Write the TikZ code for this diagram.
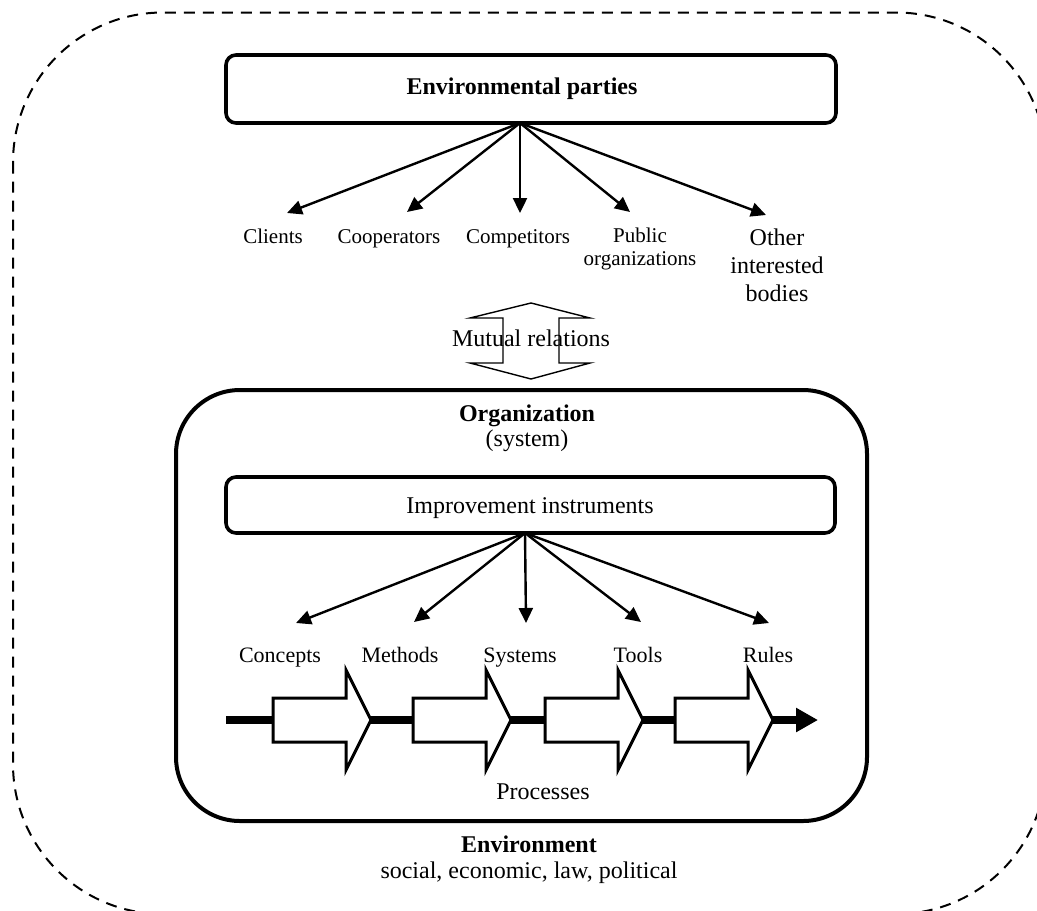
\documentclass[tikz,border=0pt]{standalone}
\usepackage{fontspec}
\setmainfont{Liberation Serif}
\usetikzlibrary{arrows.meta}
\begin{document}
\begin{tikzpicture}[x=0.5pt,y=-0.5pt,
  box/.style={draw, line width=1.8pt, rounded corners=5pt, inner sep=0pt},
  orgbox/.style={draw, line width=2pt, rounded corners=32pt, inner sep=0pt},
  lbl/.style={font=\fontsize{10.5}{11.5}\selectfont, align=center, inner sep=0pt},
  lblb/.style={font=\fontsize{11}{12}\selectfont, align=center, inner sep=0pt, anchor=base},
  txt/.style={font=\fontsize{12}{14}\selectfont, align=center, inner sep=0pt},
  btxt/.style={font=\fontsize{12}{14}\selectfont\bfseries, align=center, inner sep=0pt},
  conn/.style={line width=1.2pt, -{Triangle[length=7.5pt,width=7pt]}},
  procarrow/.style={draw, fill=white, line width=1.5pt, line join=miter},
  outer/.style={line width=1pt, dash pattern=on 5.5pt off 4pt, rounded corners=75pt}]
\useasboundingbox (0,0) rectangle (1037,910);
\clip (0,0) rectangle (1037,910);

% outer environment (dashed)
\draw[outer] (13,12.5) rectangle (1046,914);

% top box
\node[box, minimum width=305pt, minimum height=34pt] (ep) at (531,89) {};
\node[btxt, anchor=base] (eptext) at (522,94) {Environmental parties};
\coordinate (epo) at (520,123);

% environmental labels
\node[lbl, anchor=base] (clients) at (273,243) {Clients};
\node[lbl, anchor=base] (coop) at (389,243) {Cooperators};
\node[lbl, anchor=base] (comp) at (518,243) {Competitors};
\node[lbl] (pub) at (640,249) {Public\\organizations};
\node[txt, font=\fontsize{12}{14}\selectfont] (other) at (777,265) {Other\\interested\\bodies};

\coordinate (tclients) at (287,213);
\coordinate (tcoop) at (407,212);
\coordinate (tcomp) at (520,213);
\coordinate (tpub) at (630,212);
\coordinate (tother) at (766,215);
\foreach \t in {tclients,tcoop,tcomp,tpub,tother}
  \draw[conn] (epo) -- (\t);

% mutual relations double arrow
\draw[line width=0.7pt, line join=miter]
  (531,303) -- (590,318) -- (559,318) -- (559,363) -- (590,363) -- (531,379)
  -- (470,363) -- (503,363) -- (503,318) -- (470,318) -- cycle;
\node[txt, anchor=base] (mutual) at (531,346) {Mutual relations};

% organization box
\node[orgbox, minimum width=345.5pt, minimum height=215.5pt] (org) at (521.5,605.5) {};
\node[btxt, anchor=base] (orgtitle) at (527,421) {Organization};
\node[txt, anchor=base] (orgsys) at (527,446) {(system)};

% improvement instruments
\node[box, minimum width=304.5pt, minimum height=28pt] (imp) at (530.5,505) {};
\node[txt, anchor=base] (imptext) at (530,513) {Improvement instruments};
\coordinate (impo) at (525,533);

\node[lblb] (concepts) at (280,662) {Concepts};
\node[lblb] (methods) at (400,662) {Methods};
\node[lblb] (systems) at (520,662) {Systems};
\node[lblb] (tools) at (638,662) {Tools};
\node[lblb] (rules) at (768,662) {Rules};

\coordinate (tconcepts) at (296,623);
\coordinate (tmethods) at (414,622);
\coordinate (tsystems) at (526,623);
\coordinate (ttools) at (641,622);
\coordinate (trules) at (769,623);
\foreach \t in {tconcepts,tmethods,tsystems,ttools,trules}
  \draw[conn] (impo) -- (\t);

% process chain
\coordinate (pstart) at (226,720);
\coordinate (pend) at (818,720);
\draw[line width=4pt, -{Triangle[length=11pt,width=11.5pt]}] (pstart) -- (pend);
\foreach \L in {273,413,545,675}{
  \draw[procarrow] (\L,698) -- (\L+73,698) -- (\L+73,670) -- (\L+98,720)
    -- (\L+73,770) -- (\L+73,742) -- (\L,742) -- cycle;
}
\node[txt, anchor=base] (proc) at (543,799) {Processes};

% environment label
\node[btxt, anchor=base] (envtitle) at (529,852) {Environment};
\node[txt, anchor=base] (envsub) at (529,878) {social, economic, law, political};
\end{tikzpicture}
\end{document}
